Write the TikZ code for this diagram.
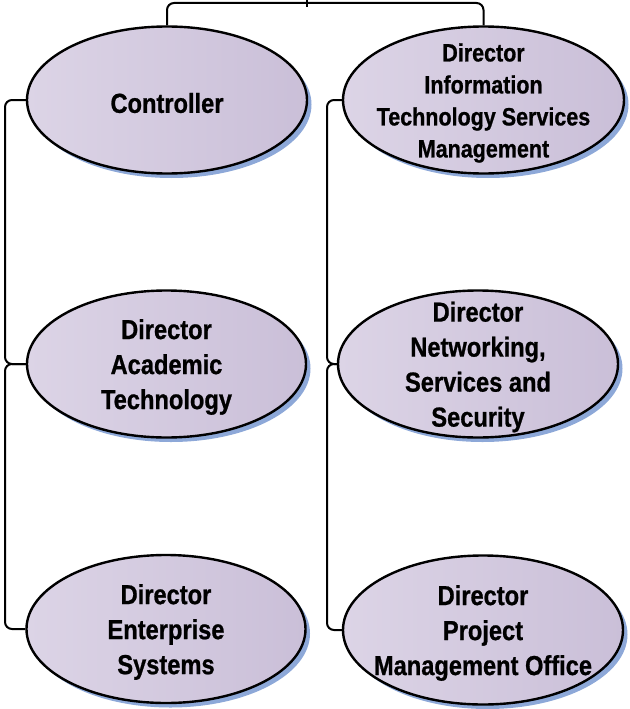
\documentclass[tikz,border=0pt]{standalone}
\usepackage{fontspec}
\setmainfont{Liberation Sans}[FakeStretch=0.86, BoldFeatures={FakeBold=0.8}]
\usetikzlibrary{shapes.geometric,shadows}
\definecolor{fillL}{HTML}{DCD4E6}
\definecolor{fillR}{HTML}{CABFD8}
\definecolor{shadowblue}{HTML}{8DA8D8}
\tikzset{
  orgnode/.style={ellipse, draw=black, line width=2.4pt, left color=fillL, right color=fillR,
    inner sep=0pt,
    drop shadow={shadow xshift=4.5pt, shadow yshift=-4.5pt, fill=shadowblue, opacity=1}},
  orgtext/.style={align=center, inner sep=0pt, yshift=-3pt, font=\bfseries\fontsize{27.5}{35}\selectfont},
  orgsmall/.style={align=center, inner sep=0pt, yshift=-3pt, font=\bfseries\fontsize{25}{32}\selectfont},
  conn/.style={draw=black, line width=2pt, rounded corners=7pt}
}
\begin{document}
\begin{tikzpicture}[x=1pt,y=-1pt]
\useasboundingbox (0,0) rectangle (629,709);
\coordinate (xl) at (5,0);
\coordinate (xr) at (327,0);
\coordinate (top) at (307,3);
\coordinate (tickup) at (307,0);
\coordinate (tickdown) at (307,7);
\node[orgnode, minimum width=280, minimum height=147,
  label={[orgtext]center:Controller}] (A) at (167,100) {};
\node[orgnode, minimum width=281, minimum height=147,
  label={[orgsmall]center:Director\\Information\\Technology Services\\Management}] (B) at (483.5,100) {};
\node[orgnode, minimum width=279, minimum height=147,
  label={[orgtext]center:Director\\Academic\\Technology}] (C) at (166.5,364) {};
\node[orgnode, minimum width=280, minimum height=147,
  label={[orgtext]center:Director\\Networking,\\Services and\\Security}] (D) at (478,364) {};
\node[orgnode, minimum width=279, minimum height=148,
  label={[orgtext]center:Director\\Enterprise\\Systems}] (E) at (166,629) {};
\node[orgnode, minimum width=280, minimum height=149,
  label={[orgtext]center:Director\\Project\\Management Office}] (F) at (483,630) {};
\draw[conn] (A.north) |- (top) -| (B.north);
\draw[conn] (tickup) -- (tickdown);
\draw[conn] (A.west) -| (xl |- C.west) -- (C.west);
\draw[conn] (C.west) -| (xl |- E.west) -- (E.west);
\draw[conn] (B.west) -| (xr |- D.west) -- (D.west);
\draw[conn] (D.west) -| (xr |- F.west) -- (F.west);
\end{tikzpicture}
\end{document}
